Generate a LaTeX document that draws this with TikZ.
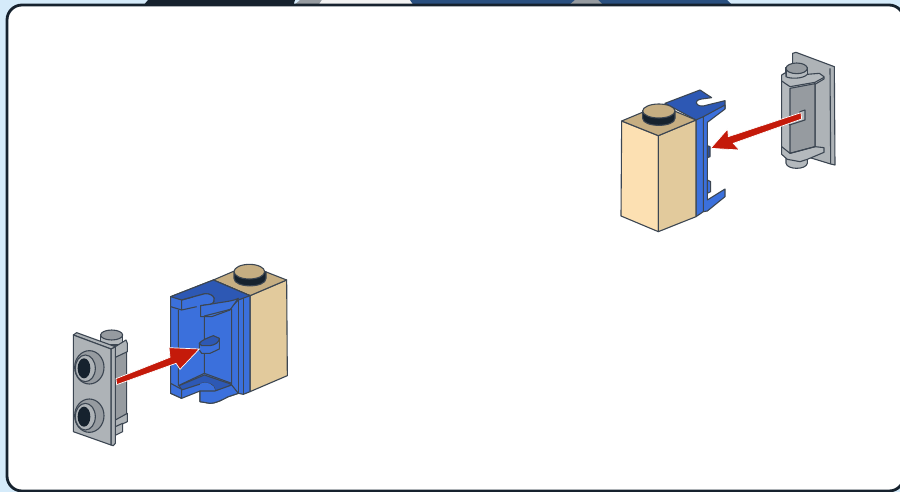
\documentclass[tikz,border=0pt]{standalone}
\definecolor{bgblue}{HTML}{D5EBFA}
\definecolor{frameink}{HTML}{16222E}
\definecolor{ink}{HTML}{3C4652}
\definecolor{blueF}{HTML}{3B70DC}
\definecolor{blueT}{HTML}{2D58B4}
\definecolor{blueD}{HTML}{2A4E9E}
\definecolor{tanL}{HTML}{FCE0B2}
\definecolor{tanR}{HTML}{E2CA9C}
\definecolor{tanT}{HTML}{C6AE82}
\definecolor{grayF}{HTML}{AEB3B7}
\definecolor{grayD}{HTML}{969BA0}
\definecolor{grayL}{HTML}{B4B9BD}
\definecolor{redA}{HTML}{C41A0A}
\definecolor{hdrblue}{HTML}{2A5080}
\tikzset{
  pc/.style={draw=ink,line width=1.1pt,line join=round},
  ar/.style={fill=redA,draw=white,line width=0.7pt,line join=miter},
  zoomed/.style={x=0.33333pt,y=-0.33333pt},
}
\begin{document}
\begin{tikzpicture}[x=1pt,y=-1pt]
\useasboundingbox (0,0) rectangle (900,492);
\fill[bgblue] (0,0) rectangle (900,492);
\fill[frameink] (143,6) -- (148,0) -- (295,0) -- (293,6) -- cycle;
\fill[grayD] (293,6) -- (300,0) -- (322,0) -- (318,6) -- cycle;
\fill[white!90!gray] (318,6) -- (322,0) -- (412,0) -- (418,6) -- cycle;
\fill[hdrblue] (414,6) -- (410,0) -- (727,0) -- (733,6) -- cycle;
\fill[grayD] (568,6) -- (575,0) -- (598,0) -- (604,6) -- cycle;
\draw[frameink,fill=white,line width=2.8pt,rounded corners=15pt] (7,5) rectangle (904,491);

% ========== left brick and blue part
\begin{scope}[shift={(160,255)},zoomed]
\filldraw[pc,fill=tanR] (270,122) -- (380,75) -- (382,362) -- (270,410) -- cycle;
\filldraw[pc,fill=tanT] (160,75) -- (265,30) -- (380,75) -- (270,122) -- cycle;
\filldraw[pc,fill=frameink] (222,50) -- (222,70) .. controls (222,100) and (318,100) .. (318,70) -- (318,50) -- cycle;
\filldraw[pc,fill=tanT] (268,50) ellipse[x radius=46,y radius=22];
% silhouette
\filldraw[pc,fill=blueF] (32,125) -- (160,75) -- (270,122) -- (270,410) -- (250,418) -- (235,415) -- (205,425) .. controls (180,438) and (165,445) .. (150,445) -- (120,440) -- (120,408) -- (65,430) -- (32,415) -- cycle;
% top face
\filldraw[pc,fill=blueT] (32,125) -- (160,75) -- (270,122) -- (235,135) -- (205,165) -- (122,155) -- (122,150) -- (150,148) .. controls (172,142) and (165,115) .. (135,116) -- (65,135) -- cycle;
\fill[blueF] (122,150) -- (150,148) .. controls (172,142) and (165,115) .. (135,116) -- (98,126) -- cycle;
\draw[pc] (65,135) -- (135,116) .. controls (165,115) and (172,142) .. (150,148) -- (122,152);
% top arm front
\filldraw[pc,fill=blueF] (122,152) -- (150,148) .. controls (190,140) and (215,140) .. (235,130) -- (210,165) -- (155,185) -- (122,185) -- cycle;
\draw[pc] (65,135) -- (65,165) (32,155) -- (65,165) -- (110,155);
% recess
\draw[pc] (55,165) -- (55,392) -- (133,355) -- (215,385) -- (215,162) -- (133,183) -- (133,355);
% bottom face and arm
\filldraw[pc,fill=blueT] (57,392) -- (133,360) -- (215,388) -- (200,398) -- (165,408) .. controls (165,385) and (135,378) .. (118,388) -- (65,405) -- cycle;
\fill[blueF] (120,386) .. controls (135,378) and (165,385) .. (165,408) -- (122,408) -- cycle;
\filldraw[pc,fill=blueF] (32,385) -- (65,403) -- (65,430) -- (32,415) -- cycle;
\filldraw[pc,fill=blueF] (120,408) -- (165,408) -- (215,390) -- (235,415) -- (205,425) .. controls (180,438) and (165,445) .. (150,445) -- (120,440) -- cycle;
\draw[pc] (235,135) -- (235,415) (250,128) -- (250,418);
% nub
\filldraw[pc,fill=blueF] (118,265) -- (118,285) -- (125,295) -- (150,295) -- (178,282) -- (178,250) -- cycle;
\filldraw[pc,fill=blueT] (118,265) .. controls (125,255) and (145,248) .. (160,242) -- (178,250) .. controls (178,262) and (165,270) .. (150,272) -- (125,272) -- cycle;
\end{scope}

% ========== left plate
\begin{scope}[shift={(50,250)},zoomed]
\filldraw[pc,fill=grayD] (196,320) -- (230,300) -- (230,500) -- (196,515) -- cycle;
\filldraw[pc,fill=grayL] (152,255) -- (152,285) -- (218,285) -- (218,255) -- cycle;
\filldraw[pc,fill=grayD] (185,255) ellipse[x radius=33,y radius=15];
\filldraw[pc,fill=grayF] (196,290) -- (228,270) -- (232,280) -- (232,305) -- (196,322) -- cycle;
\filldraw[pc,fill=grayF] (196,510) -- (232,490) -- (232,515) -- (196,532) -- cycle;
\filldraw[pc,fill=grayF] (196,530) -- (218,520) -- (218,545) -- (196,556) -- cycle;
\filldraw[pc,fill=grayF] (183,297) -- (196,290) -- (196,580) -- (190,587) -- (183,585) -- cycle;
\filldraw[pc,fill=grayF] (70,255) -- (80,248) -- (196,290) -- (183,297) -- cycle;
\filldraw[pc,fill=grayF] (70,255) -- (183,297) -- (183,585) -- (70,545) -- cycle;
\foreach \cy in {352,497}{
  \filldraw[pc,fill=grayD] (118,\cy) ellipse[x radius=44,y radius=50];
  \filldraw[pc,fill=grayF] (106,\cy+3) ellipse[x radius=30,y radius=40];
  \fill[frameink] (102,\cy+3) ellipse[x radius=19,y radius=30];
}
\filldraw[ar] (198,386) -- (360,322) -- (357,293) -- (448,297) -- (390,358) -- (378,340) -- (200,404) -- cycle;
\end{scope}

% ========== right plate
\begin{scope}[shift={(700,45)},zoomed]
\filldraw[pc,fill=grayF] (278,25) -- (288,22) -- (403,65) -- (405,360) -- (392,357) -- (320,335) -- (278,100) -- cycle;
\draw[pc] (390,70) -- (392,357);
\filldraw[pc,fill=grayL] (258,335) -- (258,355) .. controls (262,375) and (318,375) .. (322,355) -- (322,335) -- cycle;
\filldraw[pc,fill=grayL] (258,68) -- (258,100) -- (322,100) -- (322,68) -- cycle;
\filldraw[pc,fill=grayD] (290,70) ellipse[x radius=32,y radius=16];
% bracket
\filldraw[pc,fill=grayL] (245,90) -- (258,82) -- (258,95) .. controls (270,102) and (310,102) .. (322,88) -- (358,85) -- (372,95) -- (372,102) -- (345,118) -- (345,305) -- (372,308) -- (372,322) -- (322,343) -- (300,350) -- (262,343) -- (245,328) -- cycle;
\filldraw[pc,fill=grayD] (270,130) -- (345,116) -- (345,305) -- (270,325) -- cycle;
\draw[pc] (245,108) -- (270,125) -- (345,112) -- (372,97);
\draw[pc] (245,305) -- (270,325) (270,325) -- (345,305);
\filldraw[pc,fill=grayL] (268,240) -- (315,225) -- (315,195) -- (300,200) -- (300,215) -- (268,225) -- cycle;
\filldraw[ar] (303,203) -- (85,275) -- (83,252) -- (32,310) -- (118,315) -- (100,295) -- (305,222) -- cycle;
\end{scope}

% ========== right blue part and brick
\begin{scope}[shift={(610,85)},zoomed]
\filldraw[pc,fill=blueT] (165,55) -- (270,15) -- (305,38) -- (275,42) .. controls (250,45) and (255,65) .. (280,63) -- (345,47) -- (345,70) -- (285,100) -- (258,105) -- cycle;
\filldraw[pc,fill=blueF] (280,95) -- (345,60) -- (345,72) -- (292,112) -- (292,345) -- (345,312) -- (345,335) -- (292,378) -- (280,380) -- cycle;
\filldraw[pc,fill=blueD] (292,182) -- (300,185) -- (300,215) -- (292,218) -- cycle;
\filldraw[pc,fill=blueF] (292,285) -- (302,290) -- (302,320) -- (292,325) -- cycle;
\filldraw[pc,fill=blueF] (258,105) -- (280,95) -- (280,380) -- (258,395) -- cycle;
\filldraw[pc,fill=tanL] (35,108) -- (145,152) -- (145,440) -- (33,393) -- cycle;
\filldraw[pc,fill=tanR] (145,152) -- (258,105) -- (258,395) -- (145,440) -- cycle;
\filldraw[pc,fill=tanT] (35,108) -- (150,60) -- (258,105) -- (145,152) -- cycle;
\filldraw[pc,fill=frameink] (98,78) -- (98,100) .. controls (98,128) and (195,128) .. (195,100) -- (195,78) -- cycle;
\filldraw[pc,fill=tanT] (146.5,78) ellipse[x radius=48.5,y radius=21];
\end{scope}
\end{tikzpicture}
\end{document}
